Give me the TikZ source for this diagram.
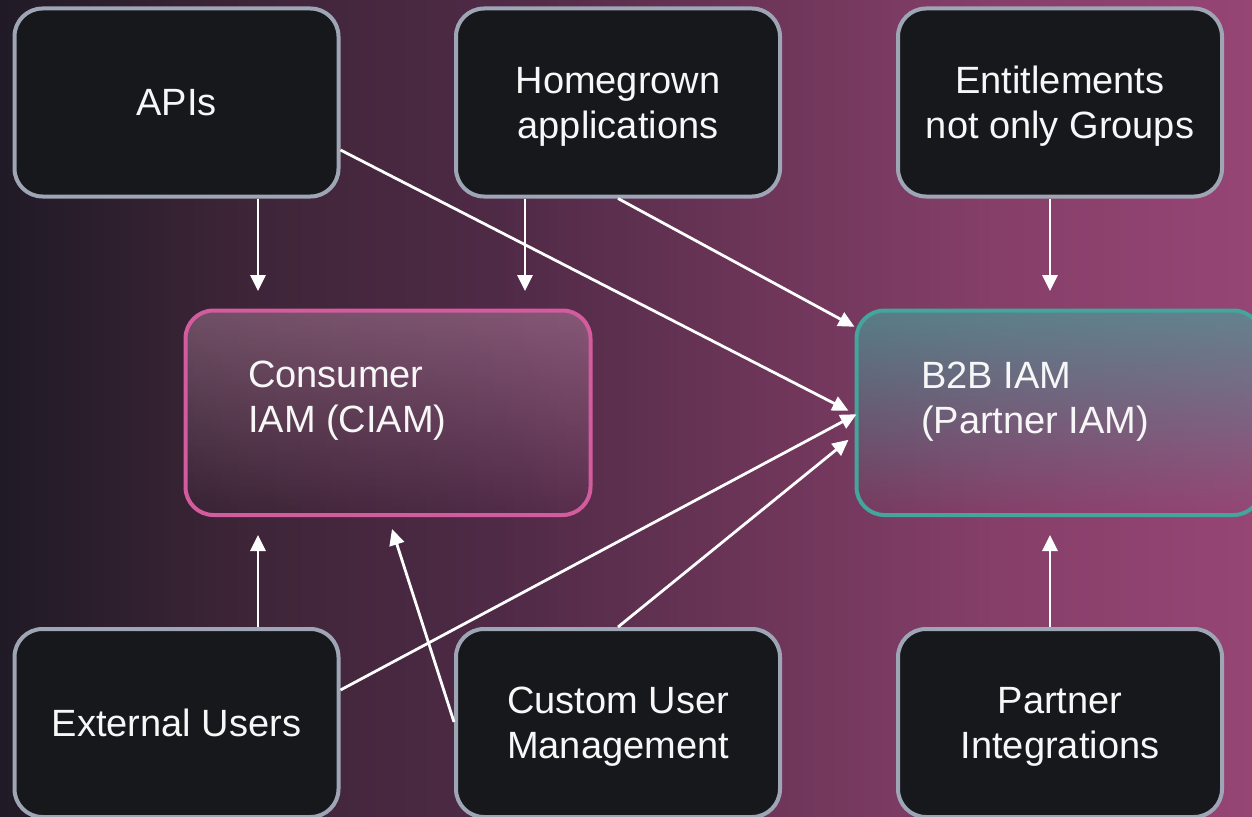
\documentclass[tikz,border=0pt]{standalone}
\usepackage{fontspec}
\setmainfont{Liberation Sans}
\usetikzlibrary{arrows.meta,calc,fadings}

% palette
\definecolor{bgA}{HTML}{201A26}
\definecolor{bgB}{HTML}{3E2538}
\definecolor{bgC}{HTML}{4F2A46}
\definecolor{bgD}{HTML}{6C3558}
\definecolor{bgE}{HTML}{863F69}
\definecolor{bgF}{HTML}{964574}
\definecolor{cardfill}{HTML}{17181C}
\definecolor{cardline}{HTML}{9EA5B5}
\definecolor{ciamline}{HTML}{D35C9E}
\definecolor{ciamtint}{HTML}{E8B0D0}
\definecolor{b2bline}{HTML}{43A59C}
\definecolor{b2btint}{HTML}{45A8A0}
\definecolor{labeltext}{HTML}{F7F7F7}

% left-to-right backdrop, stops placed in the 25bp..75bp band that fits the path
\pgfdeclarehorizontalshading{backdrop}{100bp}{%
  color(0bp)=(bgA); color(25bp)=(bgA); color(35bp)=(bgB); color(45bp)=(bgC);
  color(55bp)=(bgD); color(65bp)=(bgE); color(75bp)=(bgF); color(100bp)=(bgF)}

% tint that is strongest at the top edge and vanishes towards the bottom
\tikzfading[name=tintdown, top color=transparent!0, bottom color=transparent!100]

\newcommand{\boxfont}{\fontsize{38}{45}\selectfont}

\tikzset{
  card/.style={draw=cardline, line width=4pt, fill=cardfill,
    rounded corners=28pt, minimum width=324pt, minimum height=188pt,
    text=labeltext, align=center, font=\boxfont, text depth=0pt},
  hub/.style={line width=4pt, rounded corners=28pt,
    minimum width=405pt, minimum height=204.5pt},
  ciamhub/.style={hub, draw=ciamline,
    preaction={fill=ciamtint, fill opacity=0.32, path fading=tintdown}},
  b2bhub/.style={hub, draw=b2bline,
    preaction={fill=b2btint, fill opacity=0.62, path fading=tintdown}},
  hublabel/.style={anchor=west, align=left, text=labeltext, font=\boxfont,
    inner sep=0pt},
  arr/.style={draw=white, line width=2.8pt,
    -{Triangle[length=16pt,width=15pt]}}
}

\begin{document}
\begin{tikzpicture}[x=1pt,y=-1pt]
  \useasboundingbox (0,0) rectangle (1252,816);
  \clip (0,0) rectangle (1252,816);
  \shade[shading=backdrop] (0,0) rectangle (1252,816);

  % sources, top row
  \node[card] (apis)      at (176.5,102.5) {APIs};
  \node[card] (homegrown) at (618,102.5) {Homegrown\\applications};
  \node[card] (entitle)   at (1060,102.5) {Entitlements\\not only Groups};

  % the two IAM hubs
  \node[ciamhub] (ciam) at (388,412.75) {};
  \node[hublabel] (ciamtext) at (248,401) {Consumer\\IAM (CIAM)};
  \node[b2bhub] (b2b) at (1059,412.75) {};
  \node[hublabel] (b2btext) at (921,402) {B2B IAM\\(Partner IAM)};

  % sources, bottom row
  \node[card] (external) at (176.5,723) {External Users};
  \node[card] (custom)   at (618,723) {Custom User\\Management};
  \node[card] (partner)  at (1060,723) {Partner\\Integrations};

  % flows into Consumer IAM
  \draw[arr] ($(apis.south)+(81.5,0)$) -- ($(ciam.north)+(-130,-17.5)$);
  \draw[arr] ($(homegrown.south)+(-93,0)$) -- ($(ciam.north)+(137,-17.5)$);
  \draw[arr] ($(external.north)+(81.5,0)$) -- ($(ciam.south)+(-130,18)$);
  \draw[arr] ($(custom.west)+(0,-1)$) -- ($(ciam.south)+(4,12)$);

  % flows into B2B IAM
  \draw[arr] ($(apis.east)+(0,47.5)$) -- ($(b2b.west)+(-6,-2)$);
  \draw[arr] (homegrown.south) -- ($(b2b.west)+(0,-86)$);
  \draw[arr] ($(entitle.south)+(-10,0)$) -- ($(b2b.north)+(-9,-17.5)$);
  \draw[arr] ($(external.east)+(0,-33)$) -- ($(b2b.west)+(2,1.5)$);
  \draw[arr] (custom.north) -- ($(b2b.west)+(-6,27)$);
  \draw[arr] ($(partner.north)+(-10,0)$) -- ($(b2b.south)+(-9,18)$);
\end{tikzpicture}
\end{document}
